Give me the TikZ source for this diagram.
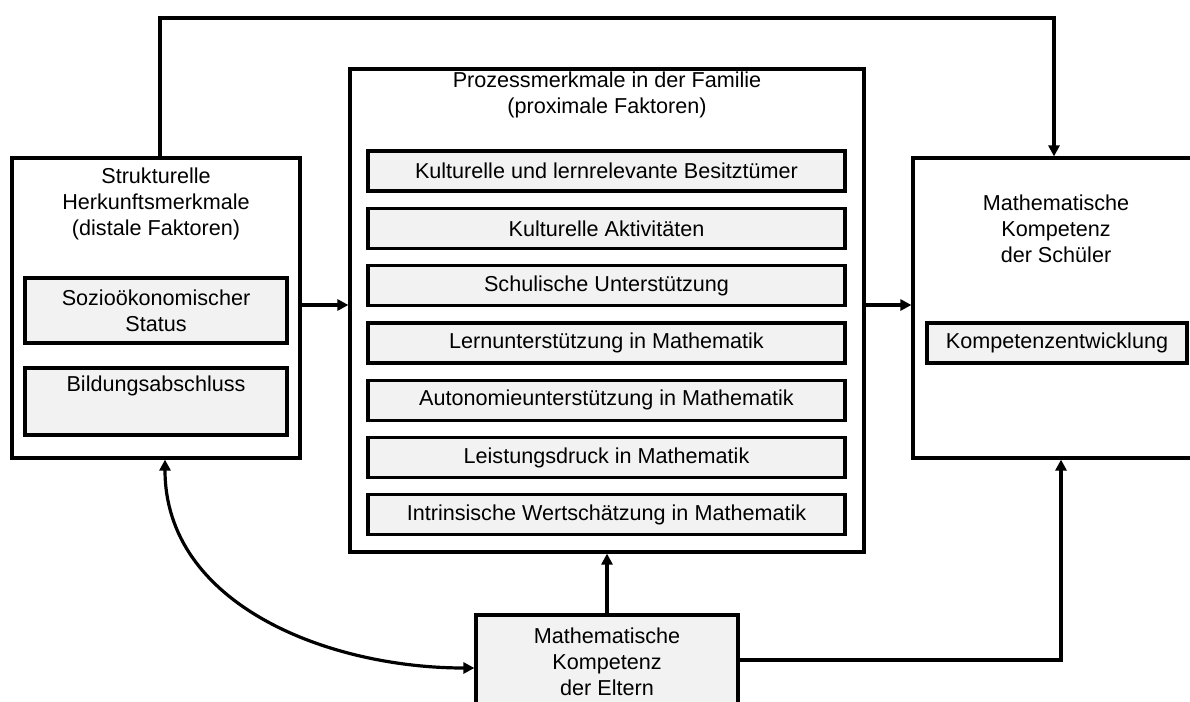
\documentclass[tikz,border=0pt]{standalone}
\usepackage{fontspec}
\setmainfont{Liberation Sans}
\usetikzlibrary{arrows.meta}
\definecolor{boxgray}{HTML}{F2F2F2}
\begin{document}
\begin{tikzpicture}[x=1pt,y=-1pt,
  txt/.style={align=center, font=\fontsize{21.6}{26}\selectfont, inner sep=0pt},
  frame/.style={draw, line width=3.2pt, fill=white, inner sep=0pt},
  itembox/.style={draw, line width=3.2pt, fill=boxgray, inner sep=0pt, txt},
  midbox/.style={itembox, minimum width=477pt, minimum height=40pt},
  arr/.style={line width=3.2pt, -{Triangle[length=11pt,width=11pt]}},
  darr/.style={line width=3.2pt, {Triangle[length=11pt,width=11pt]}-{Triangle[length=11pt,width=11pt]}}
]
\useasboundingbox (0,0) rectangle (1190,701);
\clip (0,0) rectangle (1190,701);

% structural background characteristics
\node[frame, minimum width=288pt, minimum height=300pt] (L) at (156,308) {};
\node[txt] (Lt) at (156,204) {Strukturelle\\Herkunftsmerkmale\\(distale Faktoren)};
\node[itembox, minimum width=262pt, minimum height=65pt] (L1) at (156,310.5) {Sozioökonomischer\\Status};
\node[itembox, minimum width=262pt, minimum height=67pt] (L2) at (156,401.5) {Bildungsabschluss\\[2pt]\strut};

% process characteristics in the family
\node[frame, minimum width=514pt, minimum height=483pt] (M) at (607,310.5) {};
\node[txt] (Mt) at (607,95) {Prozessmerkmale in der Familie\\(proximale Faktoren)};
\node[midbox] (M1) at (606.5,171)   {Kulturelle und lernrelevante Besitztümer};
\node[midbox] (M2) at (606.5,228.3) {Kulturelle Aktivitäten};
\node[midbox] (M3) at (606.5,285.6) {Schulische Unterstützung};
\node[midbox] (M4) at (606.5,342.9) {Lernunterstützung in Mathematik};
\node[midbox] (M5) at (606.5,400.2) {Autonomieunterstützung in Mathematik};
\node[midbox] (M6) at (606.5,457.5) {Leistungsdruck in Mathematik};
\node[midbox] (M7) at (606.5,514.8) {Intrinsische Wertschätzung in Mathematik};

% students' competence
\node[frame, minimum width=300pt, minimum height=300pt] (R) at (1063,308) {};
\node[txt] (Rt) at (1056,229) {Mathematische\\Kompetenz\\der Schüler};
\node[itembox, minimum width=260pt, minimum height=40pt] (R1) at (1057,343) {Kompetenzentwicklung};

% parents' competence
\node[itembox, minimum width=262pt, minimum height=110pt] (E) at (607,670) {};
\node[txt] (Et) at (607,662) {Mathematische\\Kompetenz\\der Eltern};

% connectors
\coordinate (a1) at (0,305);
\draw[arr] (L.east |- a1) -- (M.west |- a1);
\draw[arr] (M.east |- a1) -- (R.west |- a1);
\coordinate (t1) at (160,18);
\coordinate (t2) at (1054,18);
\draw[arr] (L.north -| t1) -- (t1) -- (t2) -- (R.north -| t2);
\draw[arr] (E.north) -- (M.south);
\coordinate (b1) at (1061,660);
\draw[arr] (E.east |- b1) -- (b1) -- (R.south -| b1);
\coordinate (c1) at (165,0);
\coordinate (c2) at (0,668);
\draw[darr] (L.south -| c1) to[out=-90,in=180] (E.west |- c2);
\end{tikzpicture}
\end{document}
